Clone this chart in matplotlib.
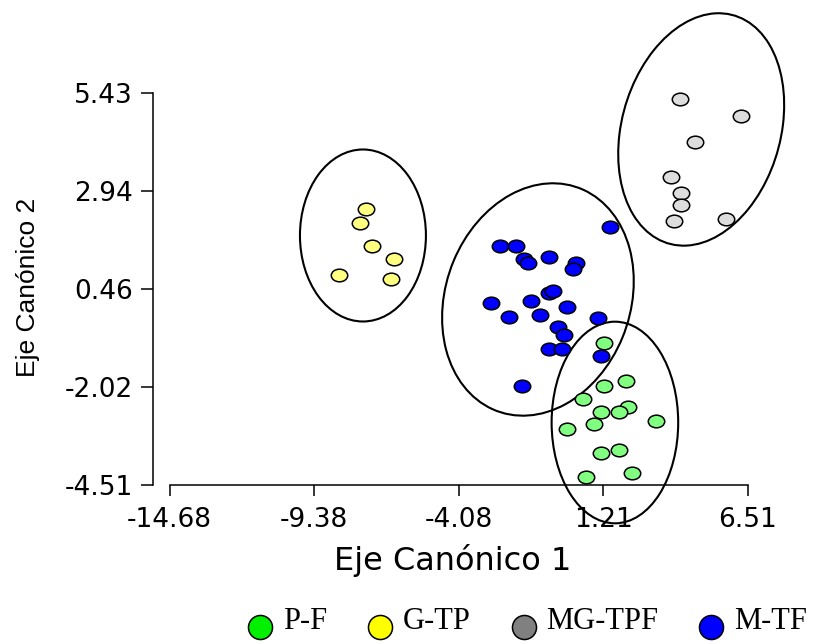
import numpy as np
import matplotlib
matplotlib.use('Agg')
import matplotlib.pyplot as plt
from matplotlib.patches import Ellipse
from matplotlib.path import Path
from matplotlib.transforms import Affine2D

# puntos por grupo (Eje Canonico 1, Eje Canonico 2)
pf_x = [1.243, 2.027, 1.243, 0.452, 2.122, 1.782, 1.122, 3.137, 0.866, -0.123, 1.782, 1.122, 2.247, 0.584]
pf_y = [-0.913, -1.870, -1.990, -2.335, -2.538, -2.650, -2.650, -2.886, -2.954, -3.096, -3.614, -3.698, -4.213, -4.307]

gtp_x = [-7.486, -7.706, -7.266, -6.460, -8.475, -6.570]
gtp_y = [2.487, 2.132, 1.556, 1.219, 0.820, 0.711]

mgtpf_x = [4.027, 6.261, 4.576, 3.686, 4.042, 4.042, 3.807, 5.701]
mgtpf_y = [5.287, 4.863, 4.203, 3.300, 2.894, 2.597, 2.191, 2.241]

mtf_x = [1.452, -2.577, -1.991, -1.698, -1.541, -0.783, 0.206, 0.086, -0.772, -0.647, -2.907,
         -1.453, -0.112, -2.237, -1.101, 1.023, -0.442, -0.233, -0.772, -0.317, 1.111, -1.772]
mtf_y = [2.031, 1.564, 1.564, 1.226, 1.117, 1.269, 1.117, 0.965, 0.355, 0.421, 0.102,
         0.152, 0.000, -0.254, -0.203, -0.264, -0.507, -0.703, -1.066, -1.066, -1.236, -1.990]

groups = ['P-F', 'G-TP', 'MG-TPF', 'M-TF']
point_colors = ['#80ff80', '#ffff80', '#dddddd', '#0000ff']
legend_colors = ['#00f000', '#ffff00', '#808080', '#0000ff']

# elipses de cada grupo
ell_cx = [1.635, -7.596, 4.796, -1.185]
ell_cy = [-2.924, 1.822, 4.513, 0.198]
ell_w = [4.637, 4.615, 6.597, 7.196]
ell_h = [5.117, 4.365, 5.314, 5.684]
ell_ang = [0, 0, 40.9, 20.9]

xticks = [-14.68, -9.38, -4.08, 1.21, 6.51]
yticks = [-4.51, -2.02, 0.46, 2.94, 5.43]

fig = plt.figure(figsize=(8.18, 6.44), dpi=100)
ax = fig.add_axes([0.2073, 0.2469, 0.7071, 0.6082])

for i in range(4):
    e = Ellipse((ell_cx[i], ell_cy[i]), ell_w[i], ell_h[i], angle=ell_ang[i],
                fill=False, edgecolor='black', linewidth=1.5, clip_on=False, zorder=2)
    ax.add_patch(e)

# marcador ovalado
oval = Path.unit_circle().transformed(Affine2D().scale(1.3, 1.0))

xs = [pf_x, gtp_x, mgtpf_x, mtf_x]
ys = [pf_y, gtp_y, mgtpf_y, mtf_y]
for i in range(4):
    ax.scatter(xs[i], ys[i], s=140, marker=oval, c=point_colors[i], edgecolors='black',
               linewidths=1.1, clip_on=False, zorder=3)

ax.set_xlim(-14.68, 6.51)
ax.set_ylim(-4.51, 5.43)
ax.set_xticks(xticks)
ax.set_xticklabels(['%.2f' % v for v in xticks])
ax.set_yticks(yticks)
ax.set_yticklabels(['%.2f' % v for v in yticks])

ax.spines['top'].set_visible(False)
ax.spines['right'].set_visible(False)
ax.spines['left'].set_position(('outward', 12.2))
ax.spines['left'].set_bounds(-4.51, 5.43)
ax.spines['bottom'].set_bounds(-14.68, 6.51)
ax.spines['left'].set_linewidth(1.1)
ax.spines['bottom'].set_linewidth(1.1)
ax.tick_params(axis='x', length=8, width=1.1, pad=8, labelsize=19)
ax.tick_params(axis='y', length=9, width=1.1, pad=5, labelsize=19)
for lab in ax.get_xticklabels() + ax.get_yticklabels():
    lab.set_family('DejaVu Sans')

ax.set_xlabel('Eje Canónico 1', fontsize=23, family='DejaVu Sans')
ax.xaxis.set_label_coords(0.49, -0.15)
ax.set_ylabel('Eje Canónico 2', fontsize=19, family='Liberation Sans')
ax.yaxis.set_label_coords(-0.224, 0.504)

handles = [ax.scatter([], [], s=300, marker='o', c=legend_colors[i], edgecolors='black',
                      linewidths=1.1) for i in range(4)]
fig.legend(handles, groups, loc='center left', bbox_to_anchor=(247.8 / 818, 22.6 / 644),
           ncol=4, frameon=False, prop={'family': 'Liberation Serif', 'size': 22},
           handlelength=0.8, handletextpad=0.35, columnspacing=1.33, borderpad=0,
           borderaxespad=0, scatterpoints=1, scatteryoffsets=[0.08])

fig.savefig('out.png', dpi=100)
